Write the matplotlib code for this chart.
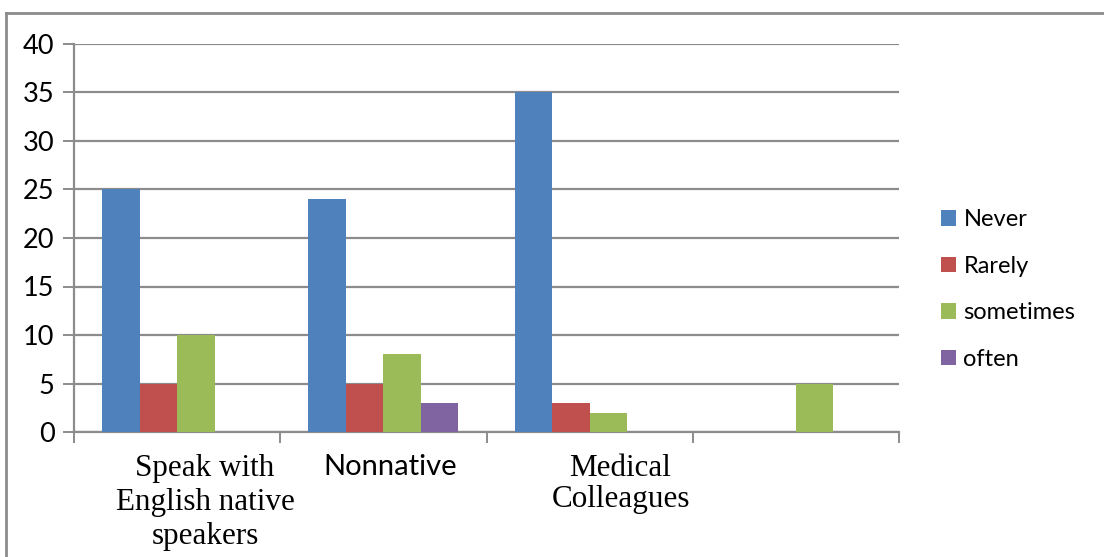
import matplotlib
matplotlib.use("Agg")
import matplotlib.pyplot as plt
from matplotlib.lines import Line2D
from matplotlib.patches import Patch
import numpy as np

categories = ["Speak with\nEnglish native\nspeakers", "Nonnative", "Medical\nColleagues", ""]
category_fonts = ["Liberation Serif", "Lato", "Liberation Serif", "Lato"]
series_names = ["Never", "Rarely", "sometimes", "often"]
never = [25, 24, 35, 0]
rarely = [5, 5, 3, 0]
sometimes = [10, 8, 2, 5]
often = [0, 3, 0, 0]
series_values = [never, rarely, sometimes, often]
colors = ["#4F81BD", "#C0504D", "#9BBB59", "#8064A2"]
y_ticks = [0, 5, 10, 15, 20, 25, 30, 35, 40]

W, H = 1104, 557
fig = plt.figure(figsize=(W / 100, H / 100), dpi=100)
ax = fig.add_axes([74 / W, 1 - 432 / H, (899 - 74) / W, (432 - 44) / H])

grid_color = "#8C8C8C"
x = np.arange(len(categories))
bw = 1 / 5.5
for i, (vals, col) in enumerate(zip(series_values, colors)):
    ax.bar(x + (i - 1.5) * bw, vals, width=bw, color=col, zorder=3, linewidth=0)

ax.set_xlim(-0.5, len(categories) - 0.5)
ax.set_ylim(0, 40)
ax.set_yticks(y_ticks)
ax.set_yticklabels([str(v) for v in y_ticks], fontfamily="Lato", fontsize=19.5)
ax.yaxis.grid(True, color=grid_color, linewidth=1.6, zorder=0)
ax.tick_params(axis="y", length=8, width=1.4, color=grid_color, pad=6)

ax.set_xticks(np.arange(-0.5, len(categories), 1.0))
ax.set_xticklabels([])
ax.tick_params(axis="x", length=8, width=1.4, color=grid_color)

# category labels sit slightly right of the group centres
label_shift = [0.135, 0.035, 0.15, 0.0]
label_linespacing = [1.22, 1.08, 1.08, 1.08]
for xi, (lab, fam) in enumerate(zip(categories, category_fonts)):
    serif = fam == "Liberation Serif"
    ax.text(xi + label_shift[xi], -2.3, lab, ha="center", va="top", fontfamily=fam,
            fontsize=22.4 if serif else 21, linespacing=label_linespacing[xi],
            transform=ax.transData, clip_on=False)

for s in ["top", "right"]:
    ax.spines[s].set_visible(False)
for s in ["left", "bottom"]:
    ax.spines[s].set_color(grid_color)
    ax.spines[s].set_linewidth(1.6)

handles = [Patch(facecolor=c, edgecolor="none") for c in colors]
fig.legend(handles, series_names, loc="upper left", bbox_to_anchor=(920 / W, 1 - 188 / H),
           frameon=False, prop={"family": "Lato", "size": 17},
           handlelength=0.64, handleheight=0.64, handletextpad=0.3, labelspacing=1.08)

# outer chart border
fig.add_artist(Line2D([6 / W, 1.0], [1 - 13 / H, 1 - 13 / H], transform=fig.transFigure,
                      color=grid_color, linewidth=2))
fig.add_artist(Line2D([6 / W, 6 / W], [0, 1 - 13 / H], transform=fig.transFigure,
                      color=grid_color, linewidth=2))

fig.savefig("out.png", dpi=100, facecolor="white")
